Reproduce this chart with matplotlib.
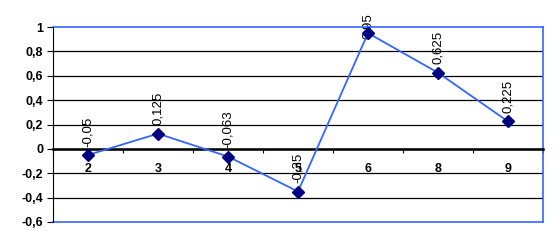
import matplotlib
matplotlib.use('Agg')
import matplotlib.pyplot as plt
import numpy as np

categories = ['2', '3', '4', '5', '6', '8', '9']
values = [-0.05, 0.125, -0.063, -0.35, 0.95, 0.625, 0.225]
value_labels = ['-0,05', '0,125', '-0,063', '-0,35', '0,95', '0,625', '0,225']
yticks = [-0.6, -0.4, -0.2, 0, 0.2, 0.4, 0.6, 0.8, 1]
ytick_labels = ['-0,6', '-0,4', '-0,2', '0', '0,2', '0,4', '0,6', '0,8', '1']

plt.rcParams['font.family'] = ['Liberation Sans', 'DejaVu Sans']

fig = plt.figure(figsize=(5.6, 2.5), dpi=100)
ax = fig.add_axes([53 / 560, 28 / 250, 490 / 560, 195 / 250])

x = np.arange(len(categories))
ax.plot(x, values, color='#3366FF', lw=1.3, marker='D', markersize=6,
        markerfacecolor='#000080', markeredgecolor='#000080', zorder=3)

for xi, v, lab in zip(x, values, value_labels):
    # labels near the top get pushed down so they stay inside the chart
    off = 6 if v < 0.9 else -4
    ax.annotate(lab, (xi, v), xytext=(0, off), textcoords='offset points',
                rotation=90, ha='center', va='bottom', fontsize=9.5, zorder=2)

ax.set_xlim(-0.5, len(categories) - 0.5)
ax.set_ylim(-0.6, 1)

# gridlines
for t in yticks[1:-1]:
    ax.axhline(t, color='black', lw=0.9, zorder=1)
ax.axhline(1, color='#3366FF', lw=1.2, zorder=2, clip_on=False)
ax.axhline(-0.6, color='#3366FF', lw=1.2, zorder=2, clip_on=False)

ax.set_yticks(yticks)
ax.set_yticklabels(ytick_labels, fontsize=9, fontweight='bold')
ax.tick_params(axis='y', length=4, width=0.8, pad=3)

# category axis on zero line
ax.spines['bottom'].set_position(('data', 0))
ax.spines['bottom'].set_linewidth(1.8)
ax.spines['bottom'].set_color('black')
ax.set_xticks(np.arange(len(categories) + 1) - 0.5)
ax.set_xticklabels([])
ax.set_xticks(x, minor=True)
ax.set_xticklabels(categories, minor=True, fontsize=9, fontweight='bold')
ax.tick_params(axis='x', which='major', length=3, width=0.8, direction='out')
ax.tick_params(axis='x', which='minor', length=0, pad=10)

ax.spines['top'].set_visible(False)
ax.spines['right'].set_color('#3366FF')
ax.spines['right'].set_linewidth(1.2)
ax.spines['left'].set_color('black')

fig.savefig('out.png', dpi=100)
